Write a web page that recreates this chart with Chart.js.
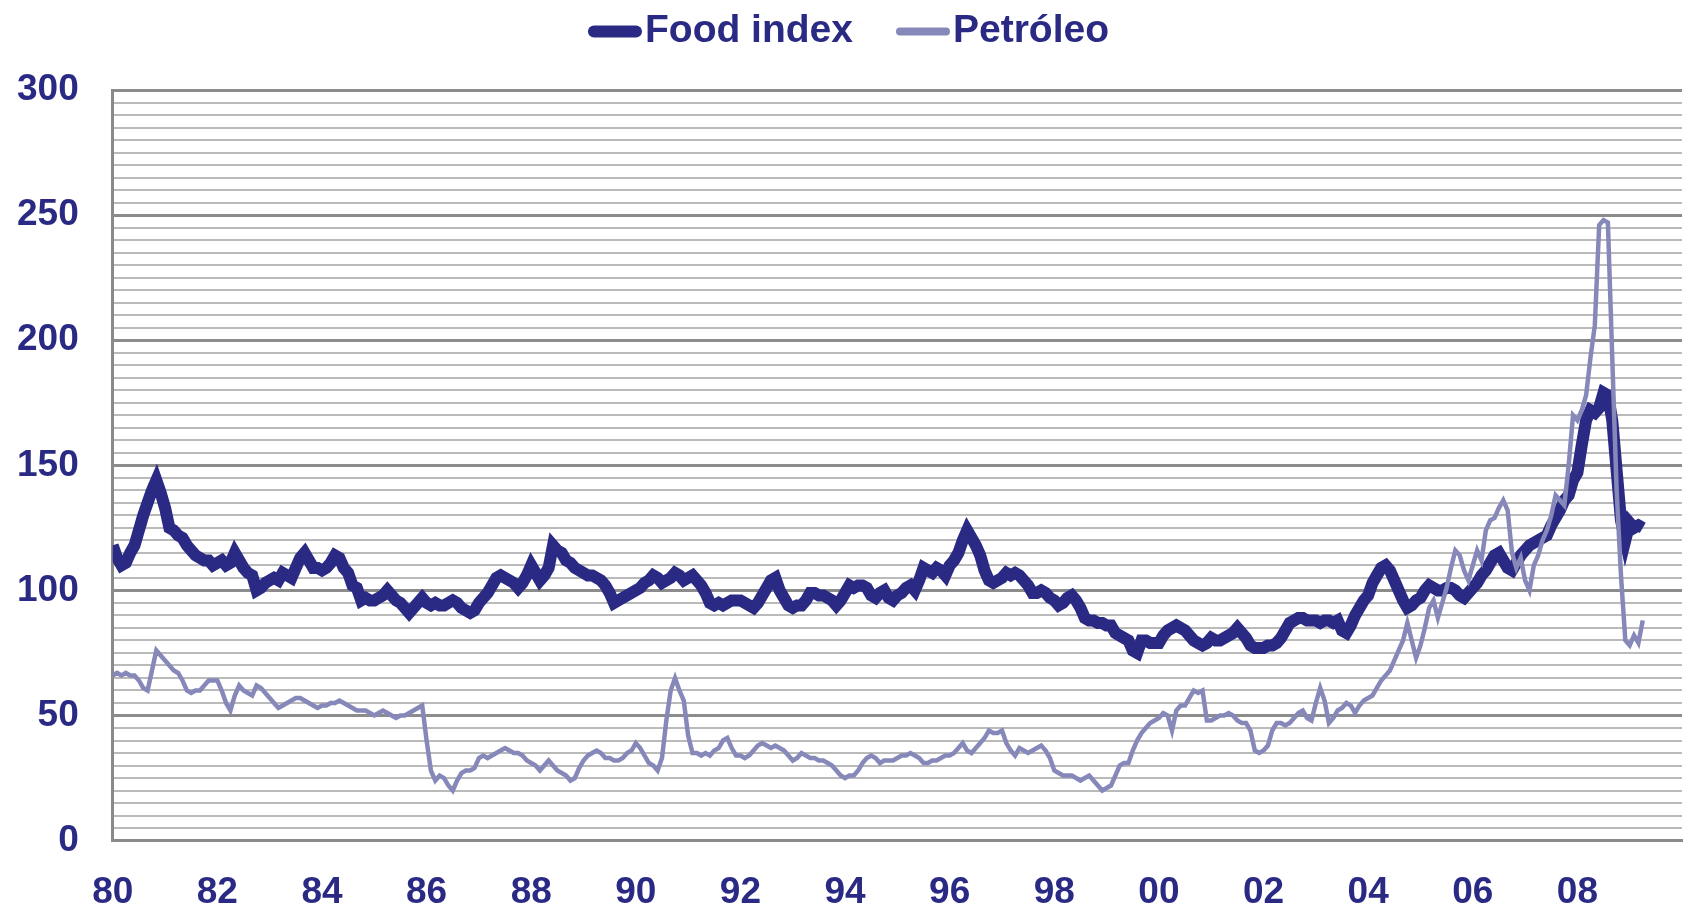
<!DOCTYPE html>
<html>
<head>
<meta charset="utf-8">
<script src="https://cdn.jsdelivr.net/npm/chart.js@4.4.0/dist/chart.umd.min.js"></script>
<style>
  html, body { margin: 0; padding: 0; background: #fff; }
  #wrap { width: 1685px; height: 914px; position: relative; }
</style>
</head>
<body>
<div id="wrap"><canvas id="chart"></canvas></div>
<script>
// monthly series, Jan 1980 .. Apr 2009
const startYear = 1980;
const xTickLabels = ['80', '82', '84', '86', '88', '90', '92', '94', '96', '98', '00', '02', '04', '06', '08'];
const yTickLabels = [0, 50, 100, 150, 200, 250, 300];

const foodIndex = [
    118, 113, 110, 111, 115, 118, 124, 130, 135, 140, 144, 139, // 1980
    133, 125, 124, 122, 121, 118, 116, 114, 113, 112, 112, 110,
    111, 112, 110, 111, 115, 112, 109, 107, 106, 100, 101, 103,
    104, 105, 104, 107, 106, 105, 109, 113, 115, 112, 109, 109,
    108, 109, 111, 114, 113, 109, 107, 102, 101, 96, 97, 96,
    96, 97, 98, 100, 98, 96, 95, 93, 91, 93, 95, 97, // 1985
    95, 94, 95, 94, 94, 95, 96, 95, 93, 92, 91, 92,
    95, 97, 99, 102, 105, 106, 105, 104, 103, 101, 103, 106,
    110, 107, 104, 106, 109, 118, 116, 115, 112, 111, 109, 108,
    107, 106, 106, 105, 104, 102, 99, 95, 96, 97, 98, 99,
    100, 101, 103, 104, 106, 105, 103, 104, 105, 107, 106, 104, // 1990
    105, 106, 104, 102, 99, 95, 94, 95, 94, 95, 96, 96,
    96, 95, 94, 93, 95, 98, 101, 104, 105, 100, 97, 94,
    93, 94, 94, 96, 99, 99, 98, 98, 97, 96, 94, 96,
    99, 102, 101, 102, 102, 101, 98, 97, 99, 100, 97, 96,
    98, 99, 101, 102, 100, 104, 109, 108, 107, 109, 108, 106, // 1995
    110, 112, 115, 120, 124, 121, 118, 114, 108, 104, 103, 104,
    105, 107, 106, 107, 106, 104, 102, 99, 99, 100, 99, 97,
    96, 94, 95, 97, 98, 96, 93, 89, 88, 88, 87, 87,
    86, 86, 83, 82, 81, 80, 76, 75, 80, 80, 79, 79,
    79, 82, 84, 85, 86, 85, 84, 82, 80, 79, 78, 79, // 2000
    81, 80, 80, 81, 82, 83, 85, 83, 81, 78, 77, 77,
    77, 78, 78, 79, 81, 84, 87, 88, 89, 89, 88, 88,
    88, 87, 88, 88, 87, 88, 84, 83, 86, 90, 93, 96,
    98, 103, 106, 109, 110, 108, 104, 100, 96, 93, 94, 96,
    97, 100, 102, 101, 100, 100, 101, 101, 100, 98, 97, 99, // 2005
    101, 103, 106, 108, 111, 114, 115, 112, 109, 108, 111, 114,
    116, 118, 119, 120, 121, 122, 126, 129, 132, 136, 138, 144,
    147, 158, 168, 172, 171, 173, 179, 178, 168, 148, 128, 120,
    127, 125, 126, 125
];

const petroleo = [
    66, 67, 66, 67, 66, 66, 64, 61, 60, 68, 76, 74, // 1980
    72, 70, 68, 67, 64, 60, 59, 60, 60, 62, 64, 64,
    64, 60, 55, 52, 58, 62, 60, 59, 58, 62, 61, 59,
    57, 55, 53, 54, 55, 56, 57, 57, 56, 55, 54, 53,
    54, 54, 55, 55, 56, 55, 54, 53, 52, 52, 52, 51,
    50, 51, 52, 51, 50, 49, 50, 50, 51, 52, 53, 54, // 1985
    40, 28, 24, 26, 25, 22, 20, 24, 27, 28, 28, 29,
    33, 34, 33, 34, 35, 36, 37, 36, 35, 35, 34, 32,
    31, 30, 28, 30, 32, 30, 28, 27, 26, 24, 25, 29,
    32, 34, 35, 36, 35, 33, 33, 32, 32, 33, 35, 36,
    39, 37, 34, 31, 30, 28, 33, 48, 60, 65, 60, 56, // 1990
    42, 35, 35, 34, 35, 34, 36, 37, 40, 41, 37, 34,
    34, 33, 34, 36, 38, 39, 38, 37, 38, 37, 36, 34,
    32, 33, 35, 34, 33, 33, 32, 32, 31, 30, 28, 26,
    25, 26, 26, 28, 31, 33, 34, 33, 31, 32, 32, 32,
    33, 34, 34, 35, 34, 33, 31, 31, 32, 32, 33, 34, // 1995
    34, 35, 37, 39, 36, 35, 37, 39, 41, 44, 43, 43,
    44, 39, 36, 34, 37, 36, 35, 36, 37, 38, 36, 33,
    28, 27, 26, 26, 26, 25, 24, 25, 26, 24, 22, 20,
    21, 22, 26, 30, 31, 31, 36, 40, 43, 45, 47, 48,
    49, 51, 50, 44, 52, 54, 54, 57, 60, 59, 60, 48, // 2000
    48, 49, 50, 50, 51, 50, 48, 47, 47, 44, 36, 35,
    36, 38, 44, 47, 47, 46, 47, 49, 51, 52, 49, 48,
    55, 61, 56, 47, 49, 52, 53, 55, 54, 51, 54, 56,
    57, 58, 61, 64, 66, 68, 72, 76, 80, 87, 80, 73,
    78, 85, 93, 96, 89, 95, 101, 109, 116, 114, 108, 104, // 2005
    110, 116, 112, 124, 128, 129, 133, 136, 132, 115, 109, 113,
    104, 100, 110, 114, 120, 124, 130, 138, 136, 134, 150, 170,
    168, 172, 178, 193, 206, 246, 248, 247, 193, 140, 106, 80,
    78, 82, 79, 88
];

const navy = '#2a2a84';
const lilac = '#8788ba';
const fontFamily = 'Liberation Sans, Arial, sans-serif';
const toPoints = arr => arr.map((v, i) => ({ x: startYear + i / 12, y: v }));

// legend drawn by hand: short rounded line, label right next to it
const lineLegend = {
    id: 'lineLegend',
    afterDraw(chart) {
        const c = chart.ctx;
        const sample = 54, gapText = 3, gapItem = 43, y = 31.5;
        const sampleWidth = [12, 8];
        c.save();
        c.font = 'bold 39px ' + fontFamily;
        const sets = chart.data.datasets;
        const widths = sets.map(d => sample + gapText + c.measureText(d.label).width);
        const total = widths.reduce((a, b) => a + b, 0) + gapItem * (sets.length - 1);
        let x = chart.width / 2 + 6 - total / 2;
        sets.forEach((d, i) => {
            const r = sampleWidth[i] / 2;
            c.strokeStyle = d.borderColor;
            c.lineWidth = sampleWidth[i];
            c.lineCap = 'round';
            c.beginPath();
            c.moveTo(x + r, y);
            c.lineTo(x + sample - r, y);
            c.stroke();
            c.fillStyle = navy;
            c.textAlign = 'left';
            c.textBaseline = 'middle';
            c.fillText(d.label, x + sample + gapText, y);
            x += widths[i] + gapItem;
        });
        c.restore();
    }
};

const ctx = document.getElementById('chart').getContext('2d');

const chart = new Chart(ctx, {
    type: 'line',
    data: {
        datasets: [{
            label: 'Food index',
            data: toPoints(foodIndex),
            borderColor: navy,
            borderWidth: 12,
            pointRadius: 0,
            tension: 0,
            order: 1
        }, {
            label: 'Petróleo',
            data: toPoints(petroleo),
            borderColor: lilac,
            borderWidth: 4.5,
            pointRadius: 0,
            tension: 0,
            order: 0   // drawn over the food line
        }]
    },
    plugins: [lineLegend],
    options: {
        responsive: true,
        maintainAspectRatio: false,
        animation: false,
        layout: {
            padding: { left: -17, right: 3, top: 90, bottom: -31 }
        },
        plugins: {
            tooltip: { enabled: false },
            legend: { display: false }
        },
        scales: {
            x: {
                type: 'linear',
                min: 1980,
                max: 2010,
                grid: { display: false, drawTicks: false },
                border: { display: true, color: '#8a8a8a', width: 3 },
                afterFit: s => { s.paddingLeft = 0; s.paddingRight = 0; },
                ticks: {
                    stepSize: 2,
                    padding: 30,
                    autoSkip: false,
                    maxRotation: 0,
                    color: navy,
                    font: { family: fontFamily, size: 37, weight: 'bold' },
                    callback: v => xTickLabels[(v - startYear) / 2] || ''
                }
            },
            y: {
                min: 0,
                max: 300,
                border: { display: true, color: '#8a8a8a', width: 3 },
                grid: {
                    drawTicks: false,
                    color: c => c.tick.value % 50 === 0 ? '#8c8c8c' : '#bababa',
                    lineWidth: c => c.tick.value % 50 === 0 ? 3 : 2
                },
                ticks: {
                    stepSize: 5,
                    maxTicksLimit: 100,
                    autoSkip: false,
                    padding: 34,
                    color: navy,
                    font: { family: fontFamily, size: 37, weight: 'bold' },
                    callback: v => yTickLabels.includes(v) ? String(v) : ''
                }
            }
        }
    }
});
</script>
</body>
</html>
